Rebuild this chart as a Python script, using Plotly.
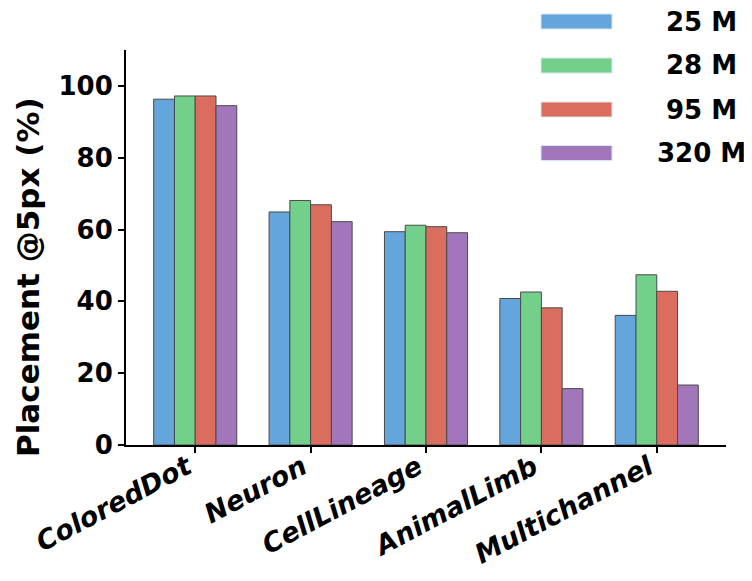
import plotly.graph_objects as go

categories = ["ColoredDot", "Neuron", "CellLineage", "AnimalLimb", "Multichannel"]
series_names = ["25 M", "28 M", "95 M", "320 M"]
vals_25m = [96.3, 64.9, 59.4, 40.8, 36.1]
vals_28m = [97.2, 68.1, 61.2, 42.6, 47.4]
vals_95m = [97.2, 66.9, 60.8, 38.2, 42.8]
vals_320m = [94.5, 62.2, 59.1, 15.7, 16.7]
y_ticks = [0, 20, 40, 60, 80, 100]

series_values = [vals_25m, vals_28m, vals_95m, vals_320m]
colors = ["#64A5DB", "#73D08B", "#DB6D5E", "#A276BB"]

FONT = "DejaVu Sans"
OFF = 8  # page body margin
W, H = 752 - OFF, 581 - OFF
# plot area in page pixels: x 126..726, y 50..445
PX0, PX1, PY0, PY1 = 126, 726, 50, 445
L, R, T, B = PX0 - OFF, W - (PX1 - OFF), PY0 - OFF, H - (PY1 - OFF)
PW, PH = PX1 - PX0, PY1 - PY0


def px_x(p):
    return (p - PX0) / PW


def px_y(p):
    return (PY1 - p) / PH


fig = go.Figure()
for name, vals, col in zip(series_names, series_values, colors):
    fig.add_trace(go.Bar(
        x=categories, y=vals, name=name, showlegend=False,
        marker=dict(color=col, line=dict(color="#4a4a4a", width=1)),
    ))

# manual legend (patch + centered label)
row_y = [21.5, 65.5, 109.5, 153]
for name, col, ry in zip(series_names, colors, row_y):
    fig.add_shape(type="rect", xref="paper", yref="paper",
                  x0=px_x(541), x1=px_x(612), y0=px_y(ry + 7.5), y1=px_y(ry - 7.5),
                  fillcolor=col, line=dict(color="#d8e6f2", width=1))
    fig.add_annotation(xref="paper", yref="paper", x=px_x(701), y=px_y(ry),
                       text=name, showarrow=False, xanchor="center", yanchor="middle",
                       font=dict(family=FONT, size=26, color="black", weight="bold"))

fig.add_annotation(xref="paper", yref="paper", x=px_x(28), y=px_y(277),
                   text="Placement @5px (%)", textangle=-90, showarrow=False,
                   xanchor="center", yanchor="middle",
                   font=dict(family=FONT, size=31, color="black", weight="bold"))

fig.update_layout(
    width=W, height=H, autosize=False,
    margin=dict(l=L, r=R, t=T, b=B, autoexpand=False),
    paper_bgcolor="white", plot_bgcolor="white",
    barmode="group", bargap=0.28, bargroupgap=0,
    font=dict(family=FONT, color="black"),
)
fig.update_xaxes(
    type="category", range=[-0.6, 4.6],
    showline=True, linecolor="black", linewidth=2,
    ticks="outside", ticklen=6, tickwidth=2, tickcolor="black",
    tickangle=-28, showgrid=False,
    ticklabelstandoff=-12, ticklabelshift=-8,
    tickfont=dict(family=FONT, size=27, color="black", weight="bold", style="italic"),
)
fig.update_yaxes(
    range=[0, 110], tickvals=y_ticks,
    showline=True, linecolor="black", linewidth=2,
    ticks="outside", ticklen=6, tickwidth=2, tickcolor="black",
    showgrid=False, zeroline=False,
    tickfont=dict(family=FONT, size=26, color="black", weight="bold"),
)

fig.write_html("out.html")
